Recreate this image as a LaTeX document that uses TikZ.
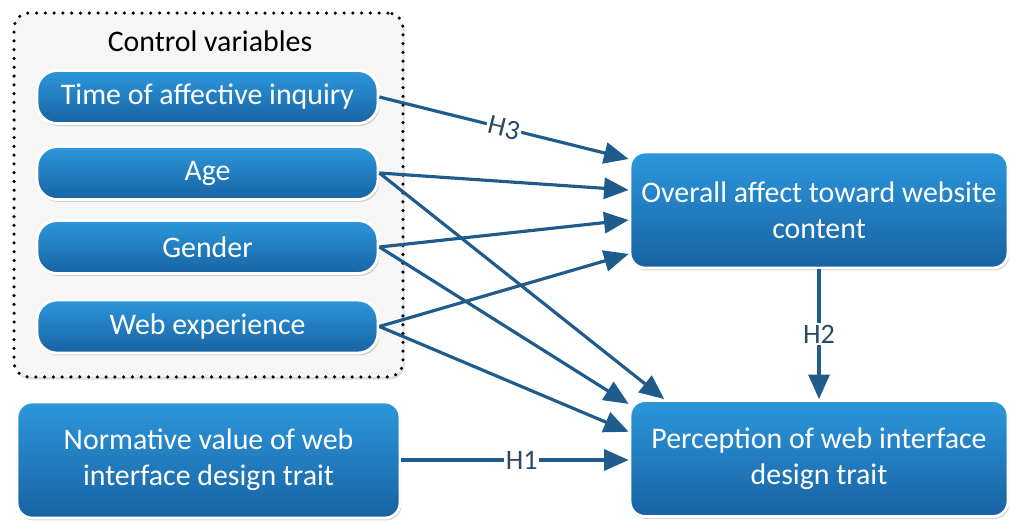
\documentclass[tikz,border=0pt]{standalone}
\usepackage{fontspec}
\setmainfont{Carlito}
\usetikzlibrary{arrows.meta,shadows,calc}
\definecolor{boxtop}{HTML}{2C97DC}
\definecolor{boxbot}{HTML}{1862A2}
\definecolor{arrowc}{HTML}{1F5C8C}
\definecolor{labc}{HTML}{2B4A66}
\begin{document}
\begin{tikzpicture}[x=0.02cm,y=-0.02cm,
  varbox/.style={draw=white, line width=1.6pt, top color=boxtop, bottom color=boxbot,
    text=white, font=\fontsize{17}{20.5}\selectfont, align=center, inner sep=0pt,
    drop shadow={opacity=0.35, shadow xshift=0.8pt, shadow yshift=-1.4pt}},
  pill/.style={varbox, rounded corners=0.4cm, minimum width=6.82cm, minimum height=1.06cm},
  bigbox/.style={varbox, rounded corners=0.3cm, minimum height=2.32cm},
  link/.style={draw=arrowc, line width=1.8pt, -{Triangle[length=14pt,width=12pt]}},
  hyp/.style={text=labc, font=\fontsize{16}{18}\selectfont, fill=white, inner sep=1pt}]
\useasboundingbox (0,0) rectangle (1010,521);

% group of control variables
\node[draw=black, line width=2pt, dash pattern=on 0pt off 5pt, line cap=round,
      fill=gray!7, rounded corners=0.3cm, minimum width=7.78cm, minimum height=7.28cm,
      drop shadow={opacity=0.25, shadow xshift=1pt, shadow yshift=-1.5pt}]
      (ctrl) at (208.5,195) {};
\node[font=\fontsize{17}{20.5}\selectfont] (ctrltitle) at (210,41) {Control variables};

\node[pill] (time) at (207.5,97) {Time of affective inquiry};
\node[pill] (age) at (207.5,173) {Age};
\node[pill] (gender) at (207.5,247) {Gender};
\node[pill] (web) at (207.5,326.5) {Web experience};

\node[bigbox, minimum width=7.66cm] (norm) at (208.5,460) {Normative value of web\\interface design trait};
\node[bigbox, minimum width=7.56cm] (ov) at (819,210) {Overall affect toward website\\content};
\node[bigbox, minimum width=7.56cm] (pe) at (819,458.5) {Perception of web interface\\design trait};

% paths to overall affect
\draw[link] (time.east) -- node[hyp, sloped] {H3} (ov.165);
\draw[link] (age.east) -- (ov.174);
\draw[link] (gender.east) -- (ov.183.5);
\draw[link] (web.east) -- (ov.193.5);

% paths to perception
\draw[link] (age.east) -- (pe.159);
\draw[link] (gender.east) -- (pe.164);
\draw[link] (web.east) -- (pe.172.5);
\draw[link] (norm.east) -- node[hyp, pos=0.53] {H1} (norm.east -| pe.west);
\draw[link] (ov.south) -- node[hyp] {H2} (pe.north);
\end{tikzpicture}
\end{document}
